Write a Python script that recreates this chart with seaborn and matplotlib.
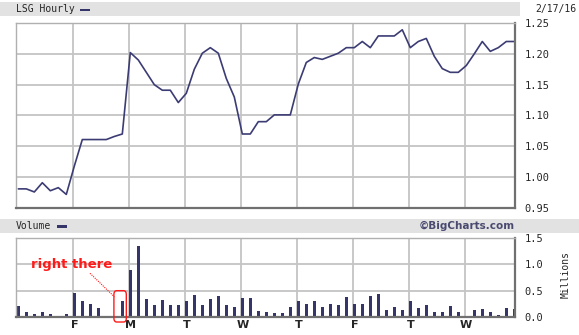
import numpy as np
import pandas as pd
import matplotlib
matplotlib.use("Agg")
import matplotlib.pyplot as plt
from matplotlib.patches import Rectangle, FancyBboxPatch
import seaborn as sns

# ---- data (hourly, 7 points per trading day) ----
price = [0.981, 0.981, 0.976, 0.991, 0.978, 0.983, 0.972,
         1.018, 1.061, 1.061, 1.061, 1.061, 1.066, 1.070,
         1.202, 1.190, 1.170, 1.150, 1.141, 1.141, 1.121,
         1.136, 1.175, 1.201, 1.210, 1.201, 1.160, 1.130,
         1.070, 1.070, 1.090, 1.090, 1.101, 1.101, 1.101,
         1.151, 1.186, 1.194, 1.191, 1.196, 1.201, 1.210,
         1.210, 1.220, 1.210, 1.229, 1.229, 1.229, 1.239,
         1.210, 1.220, 1.225, 1.196, 1.176, 1.170, 1.170,
         1.181, 1.200, 1.220, 1.204, 1.210, 1.220, 1.220]
volume = [0.208, 0.091, 0.052, 0.091, 0.052, 0.013, 0.052,
          0.461, 0.312, 0.247, 0.169, 0.0, 0.0, 0.312,
          0.890, 1.340, 0.344, 0.227, 0.325, 0.227, 0.227,
          0.305, 0.422, 0.227, 0.344, 0.403, 0.227, 0.188,
          0.364, 0.364, 0.110, 0.091, 0.071, 0.071, 0.188,
          0.305, 0.247, 0.305, 0.188, 0.247, 0.227, 0.383,
          0.247, 0.247, 0.403, 0.442, 0.130, 0.188, 0.130,
          0.305, 0.169, 0.227, 0.091, 0.091, 0.208, 0.091,
          0.013, 0.130, 0.149, 0.091, 0.032, 0.169, 0.149]
day_labels = ["F", "M", "T", "W", "T", "F", "T", "W"]
price_ticks = [0.95, 1.00, 1.05, 1.10, 1.15, 1.20, 1.25]
volume_ticks = [0.0, 0.5, 1.0, 1.5]
per_day = 7

idx = np.arange(len(price))
df = pd.DataFrame({"i": idx, "price": price, "volume": volume})

sns.set_style("white")
plt.rcParams["font.family"] = ["DejaVu Sans Mono", "DejaVu Sans"]

W, H = 579, 335
fig = plt.figure(figsize=(W / 100, H / 100), dpi=100)
fig.patch.set_facecolor("white")

def fx(px):
    return px / W

def fy(py):
    return 1 - py / H

# header bands
fig.patches.append(Rectangle((0, fy(16)), fx(520), (16 - 2) / H, transform=fig.transFigure,
                             facecolor="#e2e2e2", edgecolor="none", zorder=0))
fig.patches.append(Rectangle((0, fy(233)), 1, (233 - 219) / H, transform=fig.transFigure,
                             facecolor="#e2e2e2", edgecolor="none", zorder=0))

ax1 = fig.add_axes([fx(16), fy(208), fx(515 - 16), (208 - 23) / H])
ax2 = fig.add_axes([fx(16), fy(317), fx(515 - 16), (317 - 238) / H])

navy = "#35356a"
grid_c = "#c4c4c4"
xmin, xmax = -0.29, 62.09
day_bounds = [per_day * k - 0.125 for k in range(1, len(day_labels) + 1)]

# price line
sns.lineplot(data=df, x="i", y="price", ax=ax1, color="#3c3c74", linewidth=1.2)
ax1.set_xlim(xmin, xmax)
ax1.set_ylim(price_ticks[0], price_ticks[-1])
ax1.set_yticks(price_ticks)
ax1.set_yticklabels([f"{t:.2f}" for t in price_ticks])
ax1.set_xticks([])
for t in price_ticks[1:-1]:
    ax1.axhline(t, color=grid_c, lw=1.3, zorder=0)
for b in day_bounds:
    ax1.axvline(b, color=grid_c, lw=1.3, zorder=0)

# volume bars
sns.barplot(data=df, x="i", y="volume", ax=ax2, native_scale=True, width=0.36,
            color=navy, saturation=1, linewidth=0)
ax2.set_xlim(xmin, xmax)
ax2.set_ylim(volume_ticks[0], volume_ticks[-1])
ax2.set_yticks(volume_ticks)
ax2.set_yticklabels([f"{t:.1f}" for t in volume_ticks])
for t in volume_ticks[1:-1]:
    ax2.axhline(t, color=grid_c, lw=1.3, zorder=0)
for b in day_bounds:
    ax2.axvline(b, color=grid_c, lw=1.3, zorder=0)
ax2.set_xticks([per_day * k for k in range(1, len(day_labels) + 1)])
ax2.set_xticklabels(day_labels, fontweight="bold", fontsize=8, family="DejaVu Sans")

for ax in (ax1, ax2):
    ax.set_xlabel("")
    ax.set_ylabel("")
    ax.yaxis.tick_right()
    ax.tick_params(axis="y", length=0, pad=7, labelsize=7.5)
    ax.tick_params(axis="x", length=0, pad=2)
    ax.spines["left"].set_color("#b0b0b0")
    ax.spines["top"].set_color("#b0b0b0")
    ax.spines["right"].set_color("#707070")
    ax.spines["bottom"].set_color("#707070")
    ax.spines["left"].set_linewidth(1.0)
    ax.spines["top"].set_linewidth(1.0)
    ax.spines["right"].set_linewidth(1.6)
    ax.spines["bottom"].set_linewidth(1.6)
    for s in ax.spines.values():
        s.set_visible(True)

# header texts
fig.text(fx(16), fy(9.5), "LSG Hourly", fontsize=7, va="center", ha="left")
fig.patches.append(Rectangle((fx(80), fy(11)), fx(10), 2.2 / H, transform=fig.transFigure,
                             facecolor=navy, edgecolor="none"))
fig.text(fx(576), fy(9), "2/17/16", fontsize=7, va="center", ha="right")
fig.text(fx(16), fy(226), "Volume", fontsize=7, va="center", ha="left")
fig.patches.append(Rectangle((fx(57), fy(227.5)), fx(10), 2.2 / H, transform=fig.transFigure,
                             facecolor=navy, edgecolor="none"))
fig.text(fx(515), fy(226), "\u00a9BigCharts.com", fontsize=7.5, fontweight="bold",
         color="#4a4a70", va="center", ha="right", family="DejaVu Sans")
fig.text(fx(566), fy(275), "Millions", fontsize=7, rotation=90, va="center", ha="center")

# red annotation
red = "#ff1a1a"
ax2.text(6.7, 1.0, "right there", color=red, fontsize=9.5, fontweight="bold",
         family="DejaVu Sans", ha="center", va="center")
ax2.plot([8.96, 12.0], [0.83, 0.385], color=red, lw=0.8, ls=(0, (1, 1)), clip_on=False)
box = FancyBboxPatch((11.95, -0.095), 1.55, 0.595, boxstyle="round,pad=0,rounding_size=0.35",
                     mutation_aspect=0.2, facecolor="none", edgecolor=red, lw=1.0,
                     clip_on=False, zorder=5)
ax2.add_patch(box)

fig.savefig("out.png", dpi=100)
